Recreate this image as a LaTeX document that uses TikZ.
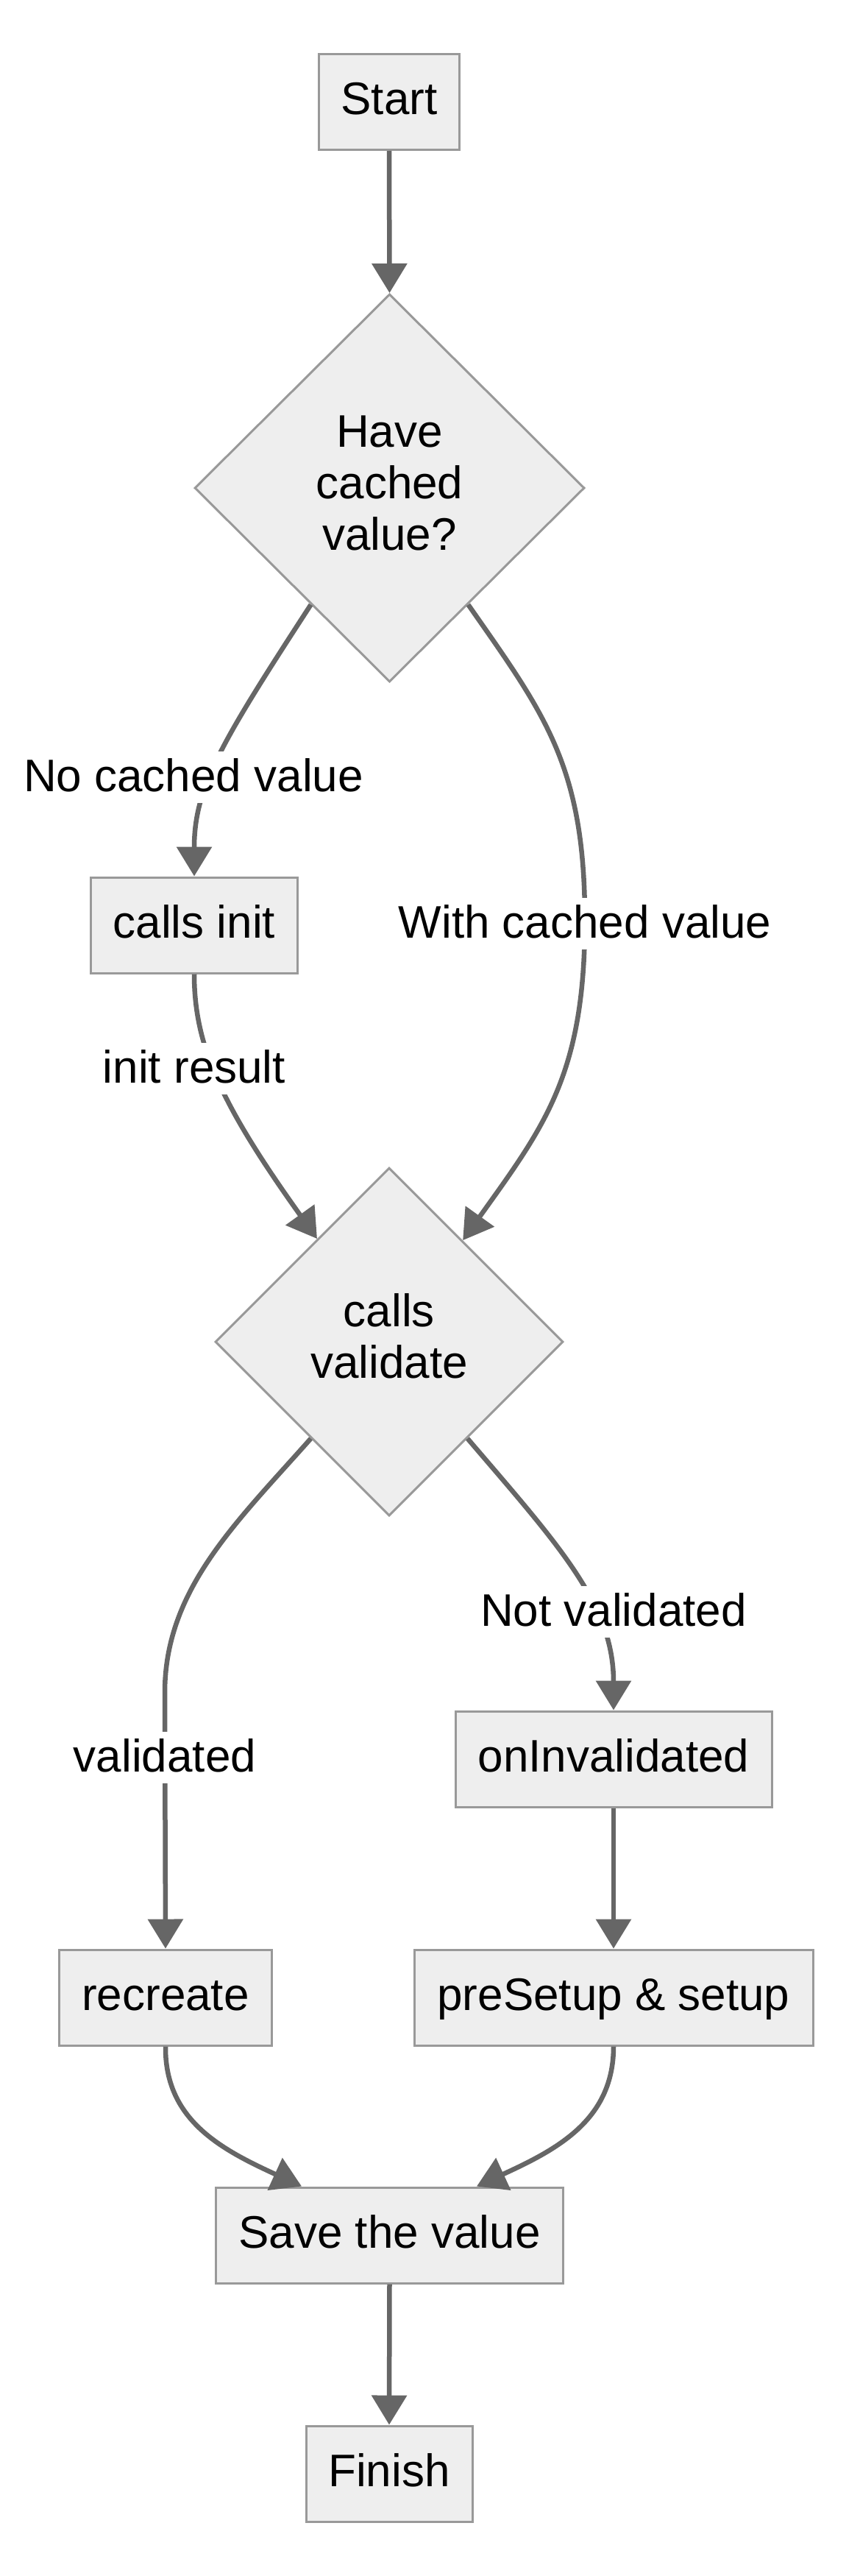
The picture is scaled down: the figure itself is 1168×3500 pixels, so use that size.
\documentclass[tikz,border=0pt]{standalone}
\usepackage{fontspec}
\setmainfont{Liberation Sans}
\usetikzlibrary{arrows.meta,shapes.geometric}
\definecolor{nodefill}{HTML}{EEEEEE}
\definecolor{nodeline}{HTML}{999999}
\definecolor{edgecol}{HTML}{666666}
\newcommand{\mystrut}{\rule[-0.212em]{0pt}{1.117em}}
\begin{document}
\begin{tikzpicture}[x=0.5pt,y=-0.5pt,
  every node/.style={font=\fontsize{31pt}{35pt}\selectfont},
  box/.style={draw=nodeline, fill=nodefill, line width=1.5pt, inner sep=0pt, minimum height=65pt, text height=26pt, text depth=8.6pt},
  diam/.style={diamond, draw=nodeline, fill=nodefill, line width=1.5pt, inner sep=0pt},
  dtext/.style={align=center, inner sep=0pt},
  lbl/.style={fill=white, inner sep=0pt, inner xsep=1pt, text height=27pt, text depth=7.6pt},
  conn/.style={draw=edgecol, line width=3.25pt, -{Triangle[length=20pt,width=23.5pt]}},
]
\fill[white] (0,0) rectangle (1168,3500);
\useasboundingbox (0,0) rectangle (1168,3500);

% nodes
\node[box, minimum width=95.5pt] (start) at (529,138.5) {Start};
\node[diam, minimum width=265pt, minimum height=263.5pt] (d1) at (529.5,663) {};
\node[dtext] (d1t) at (529.5,656.3) {\mystrut Have\\\mystrut cached\\\mystrut value?};
\node[box, minimum width=140.5pt] (init) at (264,1257) {calls init};
\node[diam, minimum width=236.5pt, minimum height=236.5pt] (d2) at (529,1823) {};
\node[dtext] (d2t) at (529,1816) {\mystrut calls\\\mystrut validate};
\node[box, minimum width=215pt] (inv) at (834,2390) {onInvalidated};
\node[box, minimum width=144.5pt] (rec) at (225,2714) {recreate};
\node[box, minimum width=271pt] (pre) at (834,2714) {preSetup \& setup};
\node[box, minimum width=236pt] (save) at (529.5,3037) {Save the value};
\node[box, minimum width=113pt] (fin) at (529,3361) {Finish};

% connectors
\draw[conn] (start.south) -- (d1.north);
\draw[conn] (d1.236) .. controls (300,1010) and (264,1070) .. (init.north);
\draw[conn] (d1.304) .. controls (740,970) and (795,1040) .. (795,1250) .. controls (795,1460) and (740,1530) .. (d2.54);
\draw[conn] (init.south) .. controls (264,1420) and (300,1500) .. (d2.125);
\draw[conn] (d2.231) .. controls (320,2070) and (224,2160) .. (224,2300) -- (rec.north);
\draw[conn] (d2.309) .. controls (760,2100) and (834,2180) .. (inv.north);
\draw[conn] (inv.south) -- (pre.north);
\draw[conn] (rec.south) .. controls (224,2880) and (300,2920) .. ([xshift=-59.75pt]save.north);
\draw[conn] (pre.south) .. controls (834,2880) and (758,2920) .. ([xshift=59.25pt]save.north);
\draw[conn] (save.south) -- (fin.north);

% edge labels
\node[lbl] (l1) at (263,1056) {No cached value};
\node[lbl] (l2) at (795,1255) {With cached value};
\node[lbl] (l3) at (264,1452) {init result};
\node[lbl] (l4) at (834,2190) {Not validated};
\node[lbl] (l5) at (224,2388) {validated};
\end{tikzpicture}
\end{document}
